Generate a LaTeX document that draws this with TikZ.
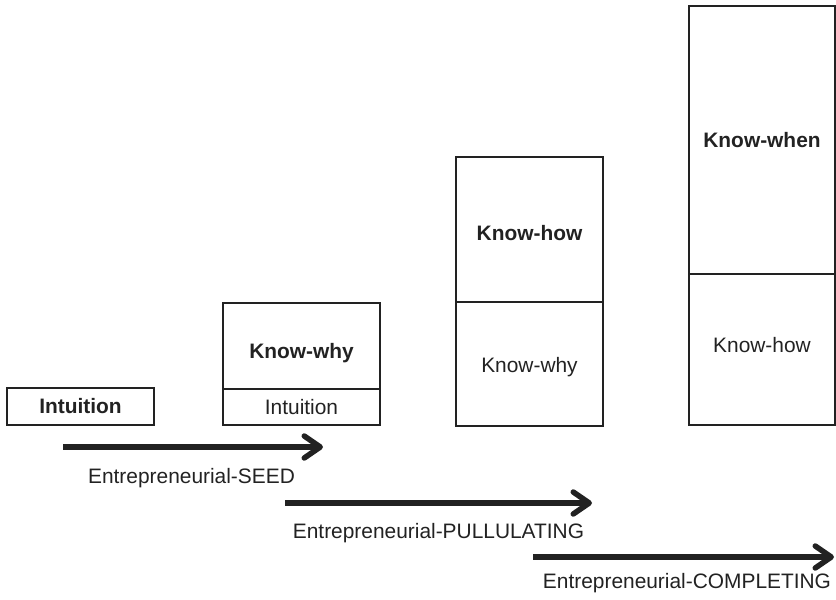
\documentclass[tikz,border=0pt]{standalone}
\usepackage{fontspec}
\setmainfont{Liberation Sans}
\usetikzlibrary{arrows.meta}
\definecolor{ink}{HTML}{222222}
\tikzset{
  cell/.style={draw=ink, line width=1.3pt, rectangle, inner sep=0pt, text=ink,
    font=\fontsize{20.9}{24}\selectfont},
  head/.style={cell, font=\fontsize{20.9}{24}\selectfont\bfseries},
  stage/.style={draw=ink, line width=5.5pt,
    -{Straight Barb[length=16pt,width=22pt,line cap=round,line join=round]}},
  stagelabel/.style={text=ink, inner sep=0pt, font=\fontsize{20.9}{24}\selectfont}
}
% shift a cell's text vertically without changing its box size
\newcommand{\lowered}[2]{\raisebox{-#1}[\height][\depth]{#2}}
\begin{document}
\begin{tikzpicture}[x=1pt,y=-1pt]
\useasboundingbox (0,0) rectangle (836,600);

% stage 1: intuition only
\node[head, minimum width=147pt, minimum height=37pt] (intuition) at (80.5,406.5) {Intuition};

% stage 2
\node[head, minimum width=157pt, minimum height=86pt] (why2) at (301.5,346) {\lowered{7pt}{Know-why}};
\node[cell, minimum width=157pt, minimum height=36pt] (int2) at (301.5,407) {Intuition};

% stage 3
\node[head, minimum width=147pt, minimum height=145pt] (how3) at (529.5,229.5) {\lowered{4pt}{Know-how}};
\node[cell, minimum width=147pt, minimum height=124pt] (why3) at (529.5,364) {\lowered{3pt}{Know-why}};

% stage 4
\node[head, minimum width=146pt, minimum height=268pt] (when4) at (762,140) {Know-when};
\node[cell, minimum width=146pt, minimum height=151pt] (how4) at (762,349.5) {\lowered{-4pt}{Know-how}};

% phase arrows
\coordinate (s1) at (63,447);
\coordinate (e1) at (323,447);
\coordinate (s2) at (285,503);
\coordinate (e2) at (592,503);
\coordinate (s3) at (533,557);
\coordinate (e3) at (834,557);
\draw[stage] (s1) -- (e1);
\draw[stage] (s2) -- (e2);
\draw[stage] (s3) -- (e3);

\node[stagelabel] (seed) at (191.5,478) {Entrepreneurial-SEED};
\node[stagelabel] (pull) at (438.5,533) {Entrepreneurial-PULLULATING};
\node[stagelabel] (comp) at (687,583) {Entrepreneurial-COMPLETING};
\end{tikzpicture}
\end{document}
